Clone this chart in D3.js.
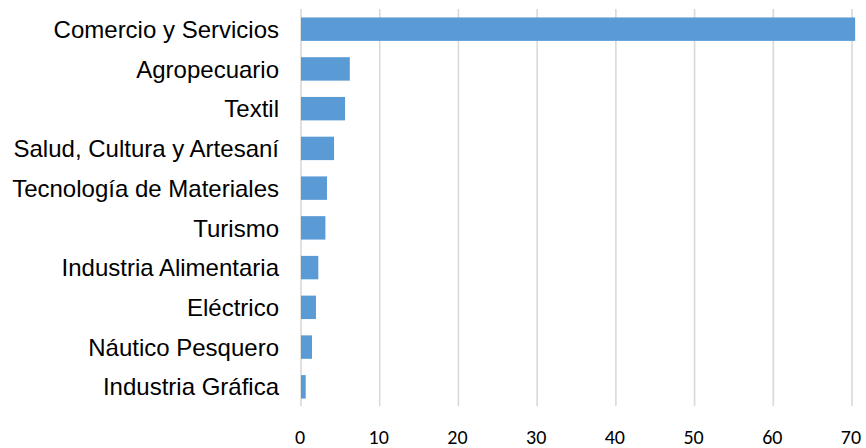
<!DOCTYPE html>
<html><head><meta charset="utf-8">
<script src="https://cdn.jsdelivr.net/npm/d3@7"></script>
<style>html,body{margin:0;padding:0;background:#fff;}svg{display:block;}</style>
</head><body>
<svg id="chart" width="866" height="448"></svg>
<script>
const categories = ["Comercio y Servicios","Agropecuario","Textil","Salud, Cultura y Artesaní","Tecnología de Materiales","Turismo","Industria Alimentaria","Eléctrico","Náutico Pesquero","Industria Gráfica"];
const values = [70.4, 6.2, 5.6, 4.2, 3.3, 3.1, 2.2, 1.9, 1.4, 0.6];
const ticks = [0,10,20,30,40,50,60,70];

const svg = d3.select("#chart");
const x = d3.scaleLinear().domain([0,70]).range([301,852]);
const y = d3.scaleBand().domain(categories).range([9.3,406.7]).paddingInner(0.41).paddingOuter(0.205);

svg.append("g").selectAll("line").data(ticks).join("line")
  .attr("x1", d=>x(d)).attr("x2", d=>x(d))
  .attr("y1", 9).attr("y2", 406)
  .attr("stroke", "#d9d9d9").attr("stroke-width", 1.6);

svg.append("g").selectAll("rect").data(values).join("rect")
  .attr("x", x(0)).attr("y", (d,i)=>y(categories[i]))
  .attr("width", d=>x(d)-x(0)).attr("height", y.bandwidth())
  .attr("fill", "#5b9bd5");

svg.append("g").selectAll("text").data(categories).join("text")
  .attr("x", 279).attr("y", d=>y(d)+y.bandwidth()/2)
  .attr("dy", "0.36em").attr("text-anchor","end")
  .attr("font-family","Liberation Sans, Arial, sans-serif")
  .attr("font-size", 24).attr("fill","#000")
  .text(d=>d);

svg.append("g").selectAll("text").data(ticks).join("text")
  .attr("x", d=>x(d)-1).attr("y", 443.5)
  .attr("text-anchor","middle")
  .attr("font-family","Carlito, Calibri, Liberation Sans, Arial, sans-serif")
  .attr("font-size", 20).attr("fill","#000")
  .text(d=>d);
</script>
</body></html>
